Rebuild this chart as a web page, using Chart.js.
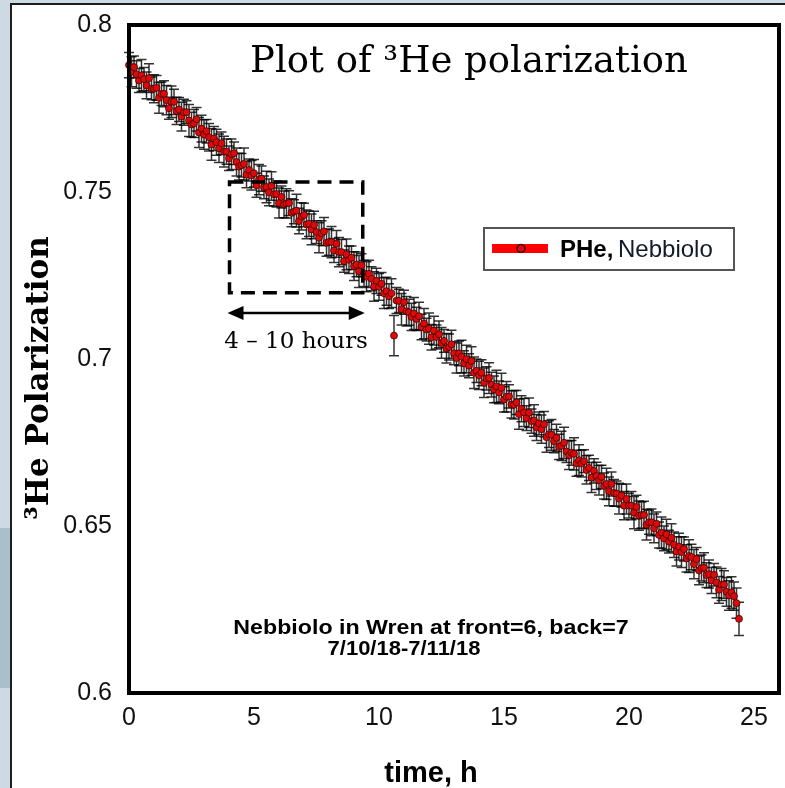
<!DOCTYPE html>
<html>
<head>
<meta charset="utf-8">
<title>3He polarization</title>
<script src="https://cdn.jsdelivr.net/npm/chart.js@4.4.0/dist/chart.umd.min.js"></script>
<style>
    html, body { margin: 0; padding: 0; background: #cdd9e3; }
    #wrap { width: 785px; height: 788px; position: relative; }
</style>
</head>
<body>
<div id="wrap"><canvas id="chartJS1"></canvas></div>
<script>
// time since start of run, hours
var timeHours = [
    0.0, 0.1, 0.2, 0.3, 0.4, 0.5, 0.6, 0.7, 0.8, 0.9,
    1.0, 1.1, 1.2, 1.3, 1.4, 1.5, 1.6, 1.7, 1.8, 1.9,
    2.0, 2.1, 2.2, 2.3, 2.4, 2.5, 2.6, 2.7, 2.8, 2.9,
    3.0, 3.1, 3.2, 3.3, 3.4, 3.5, 3.6, 3.7, 3.8, 3.9,
    4.0, 4.1, 4.2, 4.3, 4.4, 4.5, 4.6, 4.7, 4.8, 4.9,
    5.0, 5.1, 5.2, 5.3, 5.4, 5.5, 5.6, 5.7, 5.8, 5.9,
    6.0, 6.1, 6.2, 6.3, 6.4, 6.5, 6.6, 6.7, 6.8, 6.9,
    7.0, 7.1, 7.2, 7.3, 7.4, 7.5, 7.6, 7.7, 7.8, 7.9,
    8.0, 8.1, 8.2, 8.3, 8.4, 8.5, 8.6, 8.7, 8.8, 8.9,
    9.0, 9.1, 9.2, 9.3, 9.4, 9.5, 9.6, 9.7, 9.8, 9.9,
    10.0, 10.1, 10.2, 10.3, 10.4, 10.5, 10.6, 10.7, 10.8, 10.9,
    11.0, 11.1, 11.2, 11.3, 11.4, 11.5, 11.6, 11.7, 11.8, 11.9,
    12.0, 12.1, 12.2, 12.3, 12.4, 12.5, 12.6, 12.7, 12.8, 12.9,
    13.0, 13.1, 13.2, 13.3, 13.4, 13.5, 13.6, 13.7, 13.8, 13.9,
    14.0, 14.1, 14.2, 14.3, 14.4, 14.5, 14.6, 14.7, 14.8, 14.9,
    15.0, 15.1, 15.2, 15.3, 15.4, 15.5, 15.6, 15.7, 15.8, 15.9,
    16.0, 16.1, 16.2, 16.3, 16.4, 16.5, 16.6, 16.7, 16.8, 16.9,
    17.0, 17.1, 17.2, 17.3, 17.4, 17.5, 17.6, 17.7, 17.8, 17.9,
    18.0, 18.1, 18.2, 18.3, 18.4, 18.5, 18.6, 18.7, 18.8, 18.9,
    19.0, 19.1, 19.2, 19.3, 19.4, 19.5, 19.6, 19.7, 19.8, 19.9,
    20.0, 20.1, 20.2, 20.3, 20.4, 20.5, 20.6, 20.7, 20.8, 20.9,
    21.0, 21.1, 21.2, 21.3, 21.4, 21.5, 21.6, 21.7, 21.8, 21.9,
    22.0, 22.1, 22.2, 22.3, 22.4, 22.5, 22.6, 22.7, 22.8, 22.9,
    23.0, 23.1, 23.2, 23.3, 23.4, 23.5, 23.6, 23.7, 23.8, 23.9,
    24.0, 24.1, 24.2, 24.3, 24.4
];

// measured 3He polarization (PHe, Nebbiolo)
var polarization = [
    0.7880, 0.7860, 0.7874, 0.7852, 0.7834, 0.7849, 0.7838, 0.7819, 0.7841, 0.7810,
    0.7809, 0.7812, 0.7782, 0.7794, 0.7794, 0.7775, 0.7751, 0.7770, 0.7770, 0.7743,
    0.7747, 0.7726, 0.7739, 0.7739, 0.7714, 0.7702, 0.7705, 0.7718, 0.7678, 0.7690,
    0.7672, 0.7682, 0.7664, 0.7642, 0.7660, 0.7649, 0.7631, 0.7646, 0.7621, 0.7621,
    0.7601, 0.7613, 0.7616, 0.7590, 0.7576, 0.7580, 0.7584, 0.7552, 0.7566, 0.7550,
    0.7556, 0.7520, 0.7537, 0.7540, 0.7514, 0.7515, 0.7499, 0.7518, 0.7493, 0.7494,
    0.7467, 0.7485, 0.7463, 0.7466, 0.7467, 0.7438, 0.7441, 0.7444, 0.7413, 0.7427,
    0.7431, 0.7403, 0.7405, 0.7388, 0.7401, 0.7380, 0.7363, 0.7377, 0.7382, 0.7348,
    0.7350, 0.7350, 0.7325, 0.7345, 0.7320, 0.7320, 0.7293, 0.7313, 0.7297, 0.7303,
    0.7278, 0.7283, 0.7262, 0.7281, 0.7256, 0.7246, 0.7255, 0.7240, 0.7217, 0.7234,
    0.7216, 0.7225, 0.7197, 0.7203, 0.7188, 0.7197, 0.7070, 0.7175, 0.7174, 0.7149,
    0.7170, 0.7143, 0.7140, 0.7126, 0.7136, 0.7120, 0.7128, 0.7096, 0.7106, 0.7088,
    0.7091, 0.7065, 0.7085, 0.7066, 0.7074, 0.7048, 0.7054, 0.7032, 0.7036, 0.7044,
    0.7017, 0.7003, 0.7017, 0.7007, 0.6987, 0.7000, 0.6980, 0.6994, 0.6959, 0.6965,
    0.6951, 0.6959, 0.6929, 0.6942, 0.6943, 0.6923, 0.6909, 0.6918, 0.6900, 0.6914,
    0.6879, 0.6887, 0.6888, 0.6864, 0.6863, 0.6870, 0.6835, 0.6851, 0.6840, 0.6823,
    0.6839, 0.6814, 0.6816, 0.6795, 0.6807, 0.6790, 0.6805, 0.6766, 0.6775, 0.6773,
    0.6754, 0.6764, 0.6737, 0.6740, 0.6749, 0.6723, 0.6712, 0.6719, 0.6716, 0.6688,
    0.6697, 0.6687, 0.6694, 0.6668, 0.6674, 0.6645, 0.6665, 0.6650, 0.6637, 0.6647,
    0.6620, 0.6626, 0.6604, 0.6626, 0.6599, 0.6597, 0.6582, 0.6591, 0.6561, 0.6581,
    0.6561, 0.6561, 0.6540, 0.6557, 0.6531, 0.6533, 0.6533, 0.6504, 0.6511, 0.6511,
    0.6493, 0.6507, 0.6473, 0.6480, 0.6463, 0.6475, 0.6453, 0.6465, 0.6444, 0.6424,
    0.6438, 0.6422, 0.6431, 0.6403, 0.6410, 0.6407, 0.6386, 0.6401, 0.6367, 0.6374,
    0.6375, 0.6353, 0.6356, 0.6337, 0.6354, 0.6331, 0.6309, 0.6325, 0.6325, 0.6303,
    0.6292, 0.6301, 0.6290, 0.6269, 0.6222
];

// error bar half-heights
var polErr = [
    0.0038, 0.0045, 0.0033, 0.0041, 0.0036, 0.0048, 0.0035, 0.0040, 0.0043, 0.0034,
    0.0042, 0.0037, 0.0046, 0.0035, 0.0039, 0.0044, 0.0033, 0.0047, 0.0038, 0.0041,
    0.0036, 0.0043, 0.0039, 0.0034, 0.0048, 0.0037, 0.0042, 0.0035, 0.0045, 0.0040,
    0.0044, 0.0035, 0.0041, 0.0047, 0.0036, 0.0039, 0.0043, 0.0034, 0.0046, 0.0038,
    0.0037, 0.0046, 0.0034, 0.0042, 0.0040, 0.0035, 0.0048, 0.0039, 0.0033, 0.0044,
    0.0041, 0.0036, 0.0045, 0.0038, 0.0034, 0.0047, 0.0040, 0.0043, 0.0035, 0.0039,
    0.0045, 0.0033, 0.0040, 0.0044, 0.0037, 0.0042, 0.0036, 0.0049, 0.0038, 0.0041,
    0.0035, 0.0043, 0.0038, 0.0046, 0.0041, 0.0034, 0.0045, 0.0037, 0.0042, 0.0040,
    0.0039, 0.0047, 0.0036, 0.0040, 0.0044, 0.0038, 0.0033, 0.0046, 0.0041, 0.0035,
    0.0043, 0.0037, 0.0048, 0.0034, 0.0039, 0.0045, 0.0041, 0.0036, 0.0044, 0.0038,
    0.0040, 0.0034, 0.0046, 0.0042, 0.0037, 0.0043, 0.0060, 0.0039, 0.0035, 0.0047,
    0.0036, 0.0044, 0.0039, 0.0041, 0.0048, 0.0035, 0.0042, 0.0038, 0.0045, 0.0034,
    0.0047, 0.0038, 0.0043, 0.0036, 0.0040, 0.0046, 0.0034, 0.0044, 0.0039, 0.0042,
    0.0034, 0.0045, 0.0037, 0.0049, 0.0038, 0.0041, 0.0036, 0.0043, 0.0047, 0.0035,
    0.0042, 0.0039, 0.0044, 0.0035, 0.0046, 0.0037, 0.0040, 0.0048, 0.0034, 0.0043,
    0.0038, 0.0046, 0.0035, 0.0041, 0.0043, 0.0036, 0.0045, 0.0039, 0.0042, 0.0037,
    0.0044, 0.0036, 0.0047, 0.0039, 0.0034, 0.0042, 0.0038, 0.0045, 0.0040, 0.0046,
    0.0035, 0.0041, 0.0038, 0.0044, 0.0047, 0.0033, 0.0043, 0.0037, 0.0048, 0.0039,
    0.0046, 0.0040, 0.0034, 0.0042, 0.0038, 0.0045, 0.0036, 0.0041, 0.0044, 0.0035,
    0.0039, 0.0047, 0.0043, 0.0036, 0.0040, 0.0038, 0.0046, 0.0034, 0.0042, 0.0045,
    0.0037, 0.0042, 0.0048, 0.0035, 0.0044, 0.0039, 0.0041, 0.0046, 0.0036, 0.0040,
    0.0043, 0.0035, 0.0039, 0.0047, 0.0037, 0.0045, 0.0034, 0.0042, 0.0038, 0.0044,
    0.0040, 0.0046, 0.0036, 0.0041, 0.0049, 0.0038, 0.0044, 0.0035, 0.0043, 0.0039,
    0.0045, 0.0037, 0.0042, 0.0039, 0.0034, 0.0046, 0.0040, 0.0048, 0.0041, 0.0043,
    0.0044, 0.0047, 0.0042, 0.0045, 0.0050
];

var xTickValues = [0, 5, 10, 15, 20, 25];
var yTickValues = [0.6, 0.65, 0.7, 0.75, 0.8];
var yTickLabels = ['0.6', '0.65', '0.7', '0.75', '0.8'];

// highlighted window (hours / polarization)
var boxHours = [4.02, 9.35];
var boxPol = [0.7198, 0.7530];
var arrowPol = 0.7138;

var chartPoints = [];
for (var i = 0; i < timeHours.length; i++) {
    chartPoints.push({ x: timeHours[i], y: polarization[i], err: polErr[i] });
}

var sansFont = '"Liberation Sans", Arial, sans-serif';
var serifFont = '"DejaVu Serif", serif';

// slide background + white panel
var backdrop = {
    id: 'backdrop',
    beforeDraw: function (chart) {
        var ctx = chart.ctx;
        ctx.save();
        ctx.fillStyle = '#cdd9e3';
        ctx.fillRect(0, 0, chart.width, chart.height);
        ctx.fillStyle = '#a9bfca';
        ctx.fillRect(0, 528, 10, 160);
        ctx.fillStyle = '#ffffff';
        ctx.fillRect(11, 4, chart.width, chart.height);
        ctx.strokeStyle = '#1e1e1e';
        ctx.lineWidth = 2;
        ctx.beginPath();
        ctx.moveTo(11, chart.height);
        ctx.lineTo(11, 4);
        ctx.lineTo(chart.width, 4);
        ctx.stroke();
        ctx.restore();
    }
};

// vertical error bars with caps
var errorBars = {
    id: 'errorBars',
    beforeDatasetsDraw: function (chart) {
        var ctx = chart.ctx;
        var xs = chart.scales.x, ys = chart.scales.y;
        ctx.save();
        ctx.strokeStyle = 'rgba(0,0,0,0.8)';
        ctx.lineWidth = 1.5;
        chart.data.datasets[0].data.forEach(function (p) {
            var px = xs.getPixelForValue(p.x);
            var top = ys.getPixelForValue(p.y + p.err);
            var bot = ys.getPixelForValue(p.y - p.err);
            ctx.beginPath();
            ctx.moveTo(px, top); ctx.lineTo(px, bot);
            ctx.moveTo(px - 5, top); ctx.lineTo(px + 5, top);
            ctx.moveTo(px - 5, bot); ctx.lineTo(px + 5, bot);
            ctx.stroke();
        });
        ctx.restore();
    }
};

// frame, titles, legend and the marked window
var decorations = {
    id: 'decorations',
    afterDraw: function (chart) {
        var ctx = chart.ctx;
        var a = chart.chartArea;
        var xs = chart.scales.x, ys = chart.scales.y;
        ctx.save();

        // thick plot frame
        ctx.strokeStyle = '#000';
        ctx.lineWidth = 4;
        ctx.strokeRect(a.left, a.top, a.right - a.left, a.bottom - a.top);

        // dashed window
        var bx0 = xs.getPixelForValue(boxHours[0]);
        var bx1 = xs.getPixelForValue(boxHours[1]);
        var by0 = ys.getPixelForValue(boxPol[1]);
        var by1 = ys.getPixelForValue(boxPol[0]);
        ctx.setLineDash([14, 8]);
        ctx.lineWidth = 3.5;
        ctx.strokeRect(bx0, by0, bx1 - bx0, by1 - by0);
        ctx.setLineDash([]);

        // double arrow under the window
        var ay = ys.getPixelForValue(arrowPol);
        ctx.lineWidth = 2.5;
        ctx.beginPath();
        ctx.moveTo(bx0 + 10, ay); ctx.lineTo(bx1 - 10, ay);
        ctx.stroke();
        ctx.fillStyle = '#000';
        ctx.beginPath();
        ctx.moveTo(bx0 - 2, ay); ctx.lineTo(bx0 + 14, ay - 7); ctx.lineTo(bx0 + 14, ay + 7);
        ctx.closePath(); ctx.fill();
        ctx.beginPath();
        ctx.moveTo(bx1 + 2, ay); ctx.lineTo(bx1 - 14, ay - 7); ctx.lineTo(bx1 - 14, ay + 7);
        ctx.closePath(); ctx.fill();

        ctx.textAlign = 'center';
        ctx.textBaseline = 'alphabetic';
        ctx.font = '23px ' + serifFont;
        ctx.fillText('4 \u2013 10 hours', (bx0 + bx1) / 2, ay + 35);

        // plot title
        ctx.textAlign = 'left';
        ctx.font = '37px ' + serifFont;
        ctx.fillText('Plot of \u00b3He polarization', 250, 72);

        // run note (slightly wide face)
        ctx.textAlign = 'center';
        ctx.font = 'bold 20px ' + sansFont;
        ctx.save();
        ctx.translate(431, 634);
        ctx.scale(1.16, 1);
        ctx.fillText('Nebbiolo in Wren at front=6, back=7', 0, 0);
        ctx.restore();
        ctx.save();
        ctx.translate(404, 655);
        ctx.scale(1.1, 1);
        ctx.fillText('7/10/18-7/11/18', 0, 0);
        ctx.restore();

        // axis titles
        ctx.font = 'bold 29px ' + sansFont;
        ctx.fillText('time, h', 431, 782);
        ctx.save();
        ctx.translate(48, 378);
        ctx.rotate(-Math.PI / 2);
        ctx.font = 'bold 31px ' + serifFont;
        ctx.fillText('\u00b3He Polarization', 0, 0);
        ctx.restore();

        // legend
        var ds = chart.data.datasets[0];
        ctx.fillStyle = '#fff';
        ctx.fillRect(484, 228, 250, 42);
        ctx.strokeStyle = '#555';
        ctx.lineWidth = 2;
        ctx.strokeRect(484, 228, 250, 42);
        ctx.fillStyle = '#ff0000';
        ctx.fillRect(492, 244, 56, 9);
        ctx.beginPath();
        ctx.arc(521, 248.5, 4, 0, Math.PI * 2);
        ctx.fillStyle = ds.pointBackgroundColor;
        ctx.fill();
        ctx.strokeStyle = '#400';
        ctx.lineWidth = 1.5;
        ctx.stroke();
        ctx.textAlign = 'left';
        ctx.fillStyle = '#000';
        ctx.font = 'bold 24px ' + sansFont;
        ctx.fillText('PHe,', 560, 257);
        var w = ctx.measureText('PHe, ').width;
        ctx.font = '24px ' + sansFont;
        ctx.fillStyle = '#111a2a';
        ctx.fillText('Nebbiolo', 560 + w - 2, 257);

        ctx.restore();
    }
};

var ctx1 = document.getElementById('chartJS1').getContext('2d');
var chart1 = new Chart(ctx1, {
    type: 'scatter',
    data: {
        datasets: [{
            label: 'PHe, Nebbiolo',
            data: chartPoints,
            showLine: false,
            pointRadius: 3.5,
            pointBackgroundColor: '#dc0a0a',
            pointBorderColor: 'rgba(50,0,0,0.7)',
            pointBorderWidth: 1,
            clip: false
        }]
    },
    options: {
        responsive: true,
        maintainAspectRatio: false,
        animation: false,
        layout: {
            padding: { left: 0, top: 25, right: 6, bottom: 0 }
        },
        plugins: {
            legend: { display: false },
            tooltip: { enabled: false }
        },
        scales: {
            x: {
                type: 'linear',
                min: 0,
                max: 26,
                afterFit: function (scale) { scale.height = 95; },
                afterBuildTicks: function (scale) {
                    scale.ticks = xTickValues.map(function (v) { return { value: v }; });
                },
                ticks: {
                    color: '#111',
                    padding: 10,
                    maxRotation: 0,
                    font: { family: sansFont, size: 25 }
                },
                grid: { display: false, drawTicks: false },
                border: { display: false }
            },
            y: {
                type: 'linear',
                min: 0.6,
                max: 0.8,
                afterFit: function (scale) {
                    // fixed gutter; labels may overhang the frame top
                    scale.width = 129;
                    scale.paddingTop = 0;
                    scale.paddingBottom = 0;
                },
                afterBuildTicks: function (scale) {
                    scale.ticks = yTickValues.map(function (v) { return { value: v }; });
                },
                ticks: {
                    color: '#111',
                    padding: 17,
                    font: { family: sansFont, size: 25 },
                    callback: function (value) {
                        var k = yTickValues.indexOf(value);
                        return k >= 0 ? yTickLabels[k] : '';
                    }
                },
                grid: { display: false, drawTicks: false },
                border: { display: false }
            }
        }
    },
    plugins: [backdrop, errorBars, decorations]
});
</script>
</body>
</html>
